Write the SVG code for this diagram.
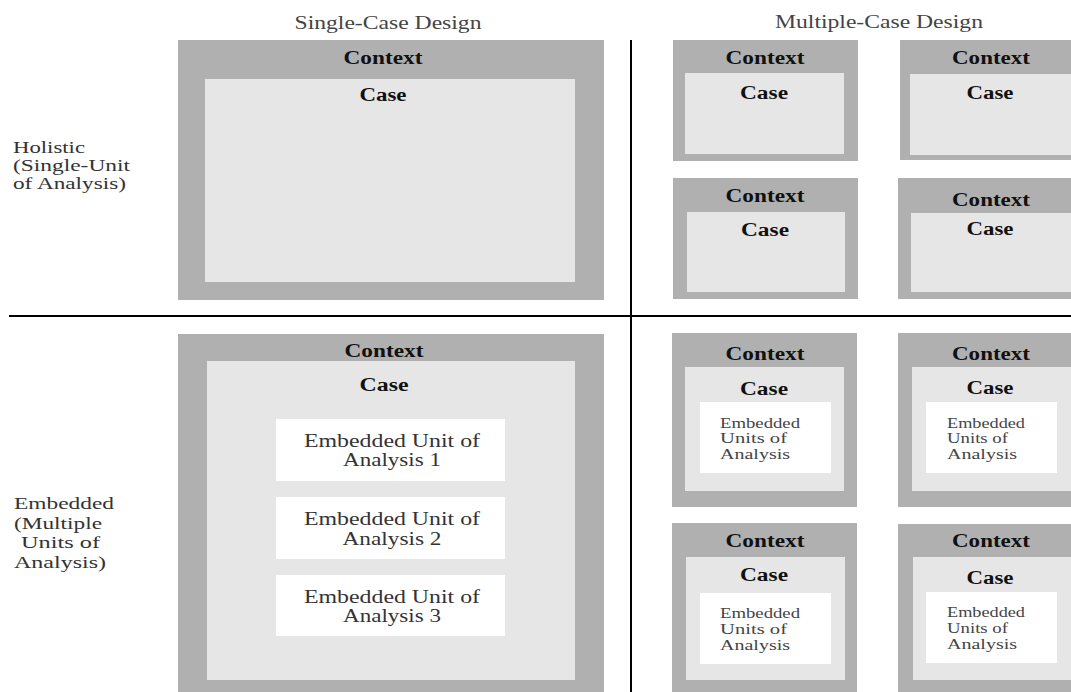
<svg xmlns="http://www.w3.org/2000/svg" width="1071" height="692" viewBox="0 0 1071 692">
<style>
.ctx{fill:#b0b0b0}
.case{fill:#e6e6e6}
.emb{fill:#ffffff}
.hd{font-family:"Liberation Serif","Times New Roman",serif;font-weight:bold;fill:#111;font-size:18px;text-anchor:middle}
.title{font-family:"Liberation Serif","Times New Roman",serif;fill:#444;font-size:18px;text-anchor:middle}
.lbl{font-family:"Liberation Serif","Times New Roman",serif;fill:#333;font-size:17px}
.eu{font-family:"Liberation Serif","Times New Roman",serif;fill:#333;font-size:18.5px;text-anchor:middle}
.eus{font-family:"Liberation Serif","Times New Roman",serif;fill:#444;font-size:14.5px}
.axis{stroke:#000;stroke-width:2;fill:none}
</style>
<rect width="1071" height="692" fill="#ffffff"/>

<g id="titles">
<text class="title" x="388" y="29" textLength="187" lengthAdjust="spacingAndGlyphs">Single-Case Design</text>
<text class="title" x="879" y="28" textLength="208" lengthAdjust="spacingAndGlyphs">Multiple-Case Design</text>
</g>

<g id="row-labels">
<text class="lbl" x="13" y="153" textLength="72" lengthAdjust="spacingAndGlyphs">Holistic</text>
<text class="lbl" x="13" y="171" textLength="117" lengthAdjust="spacingAndGlyphs">(Single-Unit</text>
<text class="lbl" x="13" y="189" textLength="113" lengthAdjust="spacingAndGlyphs">of Analysis)</text>
<text class="lbl" x="14" y="509" textLength="100" lengthAdjust="spacingAndGlyphs">Embedded</text>
<text class="lbl" x="14" y="529" textLength="88" lengthAdjust="spacingAndGlyphs">(Multiple</text>
<text class="lbl" x="21" y="548" textLength="79" lengthAdjust="spacingAndGlyphs">Units of</text>
<text class="lbl" x="14" y="568" textLength="92" lengthAdjust="spacingAndGlyphs">Analysis)</text>
</g>

<g id="connectors">
<line class="axis" x1="631" y1="40" x2="631" y2="692"/>
<line class="axis" x1="9" y1="316" x2="1071" y2="316"/>
</g>

<g id="single-holistic">
<rect class="ctx" x="178" y="40" width="426" height="260"/>
<rect class="case" x="205" y="79" width="370" height="203"/>
<text class="hd" x="383" y="64" textLength="79" lengthAdjust="spacingAndGlyphs">Context</text>
<text class="hd" x="383" y="101" textLength="47" lengthAdjust="spacingAndGlyphs">Case</text>
</g>

<g id="multi-holistic-1">
<rect class="ctx" x="673" y="40" width="185" height="121"/>
<rect class="case" x="685" y="73" width="159" height="81"/>
<text class="hd" x="765" y="64" textLength="79" lengthAdjust="spacingAndGlyphs">Context</text>
<text class="hd" x="764" y="99" textLength="48" lengthAdjust="spacingAndGlyphs">Case</text>
</g>
<g id="multi-holistic-2">
<rect class="ctx" x="900" y="40" width="180" height="120"/>
<rect class="case" x="910" y="74" width="170" height="81"/>
<text class="hd" x="991" y="64" textLength="78" lengthAdjust="spacingAndGlyphs">Context</text>
<text class="hd" x="990" y="99" textLength="47" lengthAdjust="spacingAndGlyphs">Case</text>
</g>
<g id="multi-holistic-3">
<rect class="ctx" x="673" y="178" width="185" height="121"/>
<rect class="case" x="687" y="212" width="158" height="80"/>
<text class="hd" x="765" y="202" textLength="79" lengthAdjust="spacingAndGlyphs">Context</text>
<text class="hd" x="765" y="236" textLength="48" lengthAdjust="spacingAndGlyphs">Case</text>
</g>
<g id="multi-holistic-4">
<rect class="ctx" x="898" y="178" width="180" height="121"/>
<rect class="case" x="911" y="213" width="170" height="79"/>
<text class="hd" x="991" y="206" textLength="78" lengthAdjust="spacingAndGlyphs">Context</text>
<text class="hd" x="990" y="235" textLength="47" lengthAdjust="spacingAndGlyphs">Case</text>
</g>

<g id="single-embedded">
<rect class="ctx" x="178" y="334" width="426" height="370"/>
<rect class="case" x="207" y="361" width="368" height="319"/>
<text class="hd" x="384" y="357" textLength="79" lengthAdjust="spacingAndGlyphs">Context</text>
<text class="hd" x="384" y="391" textLength="49" lengthAdjust="spacingAndGlyphs">Case</text>
<rect class="emb" x="276" y="419" width="229" height="62"/>
<text class="eu" x="392" y="447" textLength="176" lengthAdjust="spacingAndGlyphs">Embedded Unit of</text>
<text class="eu" x="392" y="466" textLength="98" lengthAdjust="spacingAndGlyphs">Analysis 1</text>
<rect class="emb" x="276" y="497" width="229" height="62"/>
<text class="eu" x="392" y="525" textLength="176" lengthAdjust="spacingAndGlyphs">Embedded Unit of</text>
<text class="eu" x="392" y="545" textLength="99" lengthAdjust="spacingAndGlyphs">Analysis 2</text>
<rect class="emb" x="276" y="575" width="229" height="61"/>
<text class="eu" x="392" y="603" textLength="176" lengthAdjust="spacingAndGlyphs">Embedded Unit of</text>
<text class="eu" x="392" y="622" textLength="98" lengthAdjust="spacingAndGlyphs">Analysis 3</text>
</g>

<g id="multi-embedded-1">
<rect class="ctx" x="672" y="333" width="185" height="174"/>
<rect class="case" x="685" y="367" width="159" height="124"/>
<rect class="emb" x="700" y="402" width="131" height="71"/>
<text class="hd" x="765" y="360" textLength="79" lengthAdjust="spacingAndGlyphs">Context</text>
<text class="hd" x="764" y="395" textLength="48" lengthAdjust="spacingAndGlyphs">Case</text>
<text class="eus" x="720" y="428" textLength="80" lengthAdjust="spacingAndGlyphs">Embedded</text>
<text class="eus" x="720" y="443" textLength="67" lengthAdjust="spacingAndGlyphs">Units of</text>
<text class="eus" x="720" y="459" textLength="70" lengthAdjust="spacingAndGlyphs">Analysis</text>
</g>
<g id="multi-embedded-2">
<rect class="ctx" x="898" y="333" width="180" height="174"/>
<rect class="case" x="912" y="367" width="170" height="124"/>
<rect class="emb" x="926" y="402" width="131" height="71"/>
<text class="hd" x="991" y="360" textLength="78" lengthAdjust="spacingAndGlyphs">Context</text>
<text class="hd" x="990" y="394" textLength="47" lengthAdjust="spacingAndGlyphs">Case</text>
<text class="eus" x="947" y="428" textLength="78" lengthAdjust="spacingAndGlyphs">Embedded</text>
<text class="eus" x="947" y="443" textLength="61" lengthAdjust="spacingAndGlyphs">Units of</text>
<text class="eus" x="947" y="459" textLength="70" lengthAdjust="spacingAndGlyphs">Analysis</text>
</g>
<g id="multi-embedded-3">
<rect class="ctx" x="672" y="523" width="185" height="200"/>
<rect class="case" x="686" y="557" width="159" height="123"/>
<rect class="emb" x="700" y="593" width="131" height="71"/>
<text class="hd" x="765" y="547" textLength="79" lengthAdjust="spacingAndGlyphs">Context</text>
<text class="hd" x="764" y="581" textLength="48" lengthAdjust="spacingAndGlyphs">Case</text>
<text class="eus" x="720" y="618" textLength="80" lengthAdjust="spacingAndGlyphs">Embedded</text>
<text class="eus" x="720" y="634" textLength="67" lengthAdjust="spacingAndGlyphs">Units of</text>
<text class="eus" x="720" y="650" textLength="70" lengthAdjust="spacingAndGlyphs">Analysis</text>
</g>
<g id="multi-embedded-4">
<rect class="ctx" x="898" y="524" width="180" height="200"/>
<rect class="case" x="913" y="557" width="170" height="123"/>
<rect class="emb" x="926" y="592" width="131" height="71"/>
<text class="hd" x="991" y="547" textLength="78" lengthAdjust="spacingAndGlyphs">Context</text>
<text class="hd" x="990" y="584" textLength="47" lengthAdjust="spacingAndGlyphs">Case</text>
<text class="eus" x="947" y="617" textLength="78" lengthAdjust="spacingAndGlyphs">Embedded</text>
<text class="eus" x="947" y="633" textLength="61" lengthAdjust="spacingAndGlyphs">Units of</text>
<text class="eus" x="947" y="649" textLength="70" lengthAdjust="spacingAndGlyphs">Analysis</text>
</g>
</svg>
